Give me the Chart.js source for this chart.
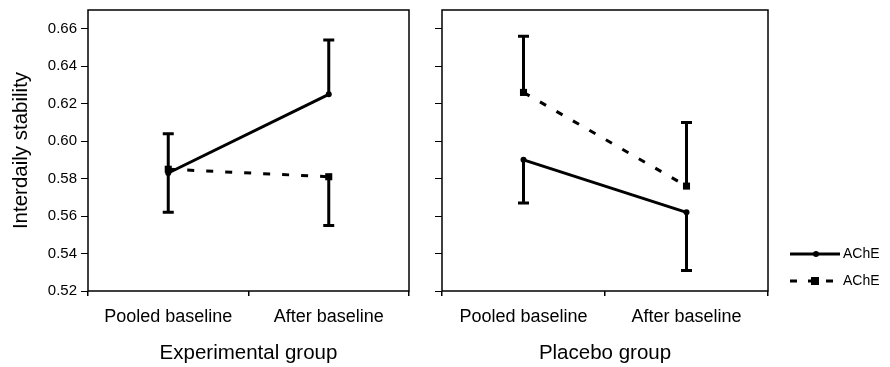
<!DOCTYPE html>
<html lang="en">
<head>
    <meta charset="UTF-8">
    <title>Interdaily stability</title>
    <script src="https://cdn.jsdelivr.net/npm/chart.js@4.4.1/dist/chart.umd.min.js"></script>
    <style>
        body {
            margin: 0;
            background: #fff;
            width: 890px;
            height: 367px;
            overflow: hidden;
            position: relative;
        }
        canvas {
            position: absolute;
            top: 0;
        }
        #expChart { left: 0; }
        #plaChart { left: 420px; }
    </style>
</head>
<body>
    <canvas id="expChart" width="420" height="367"></canvas>
    <canvas id="plaChart" width="470" height="367"></canvas>

    <script>
        // valores
        const categories = ['Pooled baseline', 'After baseline'];
        const yTicks = [0.52, 0.54, 0.56, 0.58, 0.60, 0.62, 0.64, 0.66];
        const legendLabels = ['AChE', 'AChE'];

        // grupo experimental
        const expSolid = [0.583, 0.625];
        const expDashed = [0.585, 0.581];
        const expSolidErr = [0.604, 0.654];
        const expDashedErr = [0.562, 0.555];

        // grupo placebo
        const plaSolid = [0.590, 0.562];
        const plaDashed = [0.626, 0.576];
        const plaSolidErr = [0.567, 0.531];
        const plaDashedErr = [0.656, 0.610];

        Chart.defaults.font.family = "'Liberation Sans', Arial, sans-serif";
        Chart.defaults.color = '#000';

        // moldura do gráfico
        const boxPlugin = {
            id: 'box',
            afterDraw(chart) {
                const a = chart.chartArea;
                const ctx = chart.ctx;
                ctx.save();
                ctx.strokeStyle = '#000';
                ctx.lineWidth = 1.5;
                ctx.strokeRect(a.left, a.top, a.right - a.left, a.bottom - a.top);
                ctx.restore();
            }
        };

        // barras de erro de um lado só
        const errorBarPlugin = {
            id: 'errorBars',
            afterDatasetsDraw(chart) {
                const ctx = chart.ctx;
                const yScale = chart.scales.y;
                ctx.save();
                ctx.strokeStyle = '#000';
                ctx.lineWidth = 3;
                chart.data.datasets.forEach((ds, i) => {
                    const meta = chart.getDatasetMeta(i);
                    meta.data.forEach((pt, j) => {
                        const yEnd = yScale.getPixelForValue(ds.errEnd[j]);
                        ctx.beginPath();
                        ctx.moveTo(pt.x, pt.y);
                        ctx.lineTo(pt.x, yEnd);
                        ctx.moveTo(pt.x - 5.5, yEnd);
                        ctx.lineTo(pt.x + 5.5, yEnd);
                        ctx.stroke();
                    });
                });
                ctx.restore();
            }
        };

        // legenda à direita (cortada na borda, como no original)
        const sideLegend = {
            id: 'sideLegend',
            afterDraw(chart) {
                const ctx = chart.ctx;
                const x0 = 370, x1 = 420;
                const rows = [254, 281];
                ctx.save();
                ctx.strokeStyle = '#000';
                ctx.fillStyle = '#000';
                ctx.lineWidth = 3;

                ctx.beginPath();
                ctx.moveTo(x0, rows[0]);
                ctx.lineTo(x1, rows[0]);
                ctx.stroke();
                ctx.beginPath();
                ctx.arc(396, rows[0], 3, 0, Math.PI * 2);
                ctx.fill();

                ctx.setLineDash([7, 11]);
                ctx.beginPath();
                ctx.moveTo(x0, rows[1]);
                ctx.lineTo(x1, rows[1]);
                ctx.stroke();
                ctx.setLineDash([]);
                ctx.fillRect(391, rows[1] - 4, 8, 8);

                ctx.font = "14px 'Liberation Sans', Arial, sans-serif";
                ctx.textBaseline = 'middle';
                ctx.textAlign = 'left';
                ctx.fillText(legendLabels[0], 423, rows[0]);
                ctx.fillText(legendLabels[1], 423, rows[1]);
                ctx.restore();
            }
        };

        function makeChart(id, solid, solidErr, dashed, dashedErr, groupTitle, showY) {
            const ctx = document.getElementById(id).getContext('2d');
            return new Chart(ctx, {
                type: 'line',
                data: {
                    labels: categories,
                    datasets: [{
                        label: legendLabels[0],
                        data: solid,
                        errEnd: solidErr,
                        borderColor: '#000',
                        backgroundColor: '#000',
                        borderWidth: 3,
                        pointStyle: 'circle',
                        pointRadius: 3,
                        pointBorderWidth: 0,
                        tension: 0
                    }, {
                        label: legendLabels[1],
                        data: dashed,
                        errEnd: dashedErr,
                        borderColor: '#000',
                        backgroundColor: '#000',
                        borderWidth: 3,
                        borderDash: [7, 12],
                        pointStyle: 'rect',
                        pointRadius: 5,
                        pointBorderWidth: 0,
                        tension: 0
                    }]
                },
                options: {
                    responsive: false,
                    animation: false,
                    events: [],
                    layout: {
                        padding: { top: 10, right: showY ? 11 : 122, bottom: 0, left: 0 }
                    },
                    plugins: {
                        legend: { display: false },
                        tooltip: { enabled: false }
                    },
                    scales: {
                        x: {
                            offset: true,
                            grid: {
                                offset: true,
                                drawOnChartArea: false,
                                drawTicks: true,
                                tickLength: 5,
                                color: '#000',
                                lineWidth: 1.5
                            },
                            border: { display: false },
                            ticks: {
                                font: { size: 18 },
                                padding: 10,
                                maxRotation: 0
                            },
                            title: {
                                display: true,
                                text: groupTitle,
                                font: { size: 20.5 },
                                padding: { top: 0, bottom: 1 }
                            },
                            afterFit(s) { s.height = 76; }
                        },
                        y: {
                            min: 0.52,
                            max: 0.67,
                            grid: {
                                drawOnChartArea: false,
                                drawTicks: true,
                                tickLength: 7,
                                color: '#000',
                                lineWidth: 1
                            },
                            border: { display: false },
                            afterBuildTicks(s) {
                                s.ticks = yTicks.map(v => ({ value: v }));
                            },
                            ticks: {
                                display: showY,
                                font: { size: 15 },
                                padding: 4,
                                callback: v => v.toFixed(2)
                            },
                            title: {
                                display: showY,
                                text: 'Interdaily stability',
                                font: { size: 20.5 },
                                padding: { top: 9, bottom: 0 }
                            },
                            afterFit(s) {
                                s.width = showY ? 88 : 22;
                                s.paddingTop = 0;
                                s.paddingBottom = 0;
                            }
                        }
                    }
                },
                plugins: showY ? [boxPlugin, errorBarPlugin] : [boxPlugin, errorBarPlugin, sideLegend]
            });
        }

        const expChart = makeChart('expChart', expSolid, expSolidErr, expDashed, expDashedErr, 'Experimental group', true);
        const plaChart = makeChart('plaChart', plaSolid, plaSolidErr, plaDashed, plaDashedErr, 'Placebo group', false);
    </script>
</body>
</html>
